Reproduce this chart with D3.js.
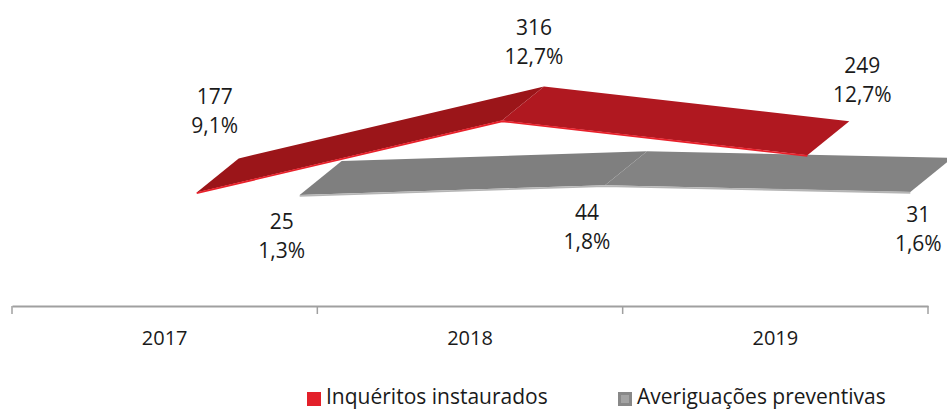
<!DOCTYPE html>
<html>
<head>
<meta charset="utf-8">
<script src="https://cdn.jsdelivr.net/npm/d3@7"></script>
<style>
  body { margin: 0; background: #fff; }
  svg text { font-family: "Open Sans", sans-serif; fill: #1a1a1a; }
</style>
</head>
<body>
<div id="chart"></div>
<script>
let svgWidth = 947;
let svgHeight = 410;

// Data
let years = ["2017", "2018", "2019"];
let seriesNames = ["Inquéritos instaurados", "Averiguações preventivas"];
let inqueritos = [177, 316, 249];
let inqueritosPct = ["9,1%", "12,7%", "12,7%"];
let averiguacoes = [25, 44, 31];
let averiguacoesPct = ["1,3%", "1,8%", "1,6%"];

// label nudges (layout only)
let inqNudge = [[18, -88], [32, -85], [55, -82]];
let avgNudge = [[-18, 34], [-18, 35], [8, 30]];

let svg = d3.select("#chart").append("svg").attr("width", svgWidth).attr("height", svgHeight);

let floorY = 306;
let x = d3.scaleBand().domain(years).range([12, 928]).padding(0);
let y = d3.scaleLinear().domain([0, 400]).range([0, 207]); // height above floor

let depth = { dx: 42, dy: -34 };

// one ribbon per series: front edge offset from floor centre
let series = [
  { name: seriesNames[1], values: averiguacoes, pct: averiguacoesPct, off: { dx: 135, dy: -98 },
    fills: ["#7f7f7f", "#838383"], edge: "#b5b5b5", nudge: avgNudge },
  { name: seriesNames[0], values: inqueritos, pct: inqueritosPct, off: { dx: 32, dy: -22 },
    fills: ["#9b1519", "#b01820"], edge: "#e8212b", nudge: inqNudge }
];

let front = (s, i) => [x(years[i]) + x.bandwidth() / 2 + s.off.dx, floorY - y(s.values[i]) + s.off.dy];
let back = (s, i) => { let p = front(s, i); return [p[0] + depth.dx, p[1] + depth.dy]; };

let line = d3.line();

series.forEach(s => {
  let g = svg.append("g");
  for (let i = 0; i < years.length - 1; i++) {
    g.append("path")
      .attr("d", line([front(s, i), front(s, i + 1), back(s, i + 1), back(s, i)]) + "Z")
      .attr("fill", s.fills[i]);
  }
  // thin front edge (ribbon thickness)
  g.append("path")
    .attr("d", line(years.map((d, i) => { let p = front(s, i); return [p[0], p[1] + 0.8]; })))
    .attr("fill", "none")
    .attr("stroke", s.edge)
    .attr("stroke-width", 1.8);
});

// data labels
series.forEach(s => {
  years.forEach((yr, i) => {
    let p = front(s, i);
    let t = svg.append("text")
      .attr("x", p[0] + s.nudge[i][0])
      .attr("y", p[1] + s.nudge[i][1])
      .attr("text-anchor", "middle")
      .attr("font-size", 21);
    t.append("tspan").attr("x", p[0] + s.nudge[i][0]).text(s.values[i]);
    t.append("tspan").attr("x", p[0] + s.nudge[i][0]).attr("dy", 29).text(s.pct[i]);
  });
});

// category axis
let axisG = svg.append("g").attr("transform", `translate(0, ${floorY})`);
axisG.call(d3.axisBottom(x).tickSize(0).tickPadding(25));
axisG.attr("font-size", 20).attr("font-family", "'Open Sans', sans-serif");
axisG.select(".domain").attr("stroke", "#a0a0a0").attr("stroke-width", 2);
axisG.selectAll(".tick text")
  .style("font-size", "20px")
  .attr("fill", "#1a1a1a");
let bounds = years.map(d => x(d)).concat([x.range()[1]]);
axisG.selectAll("line.bound")
  .data(bounds)
  .enter()
  .append("line")
  .attr("class", "bound")
  .attr("x1", d => d).attr("x2", d => d)
  .attr("y1", 0).attr("y2", 8)
  .attr("stroke", "#a0a0a0")
  .attr("stroke-width", 1.5);

// legend
let legend = [
  { name: seriesNames[0], x: 307, outer: "#e3202a", inner: null },
  { name: seriesNames[1], x: 618, outer: "#888888", inner: "#a3a3a3" }
];
legend.forEach(l => {
  svg.append("rect").attr("x", l.x).attr("y", 392).attr("width", 14).attr("height", 14).attr("fill", l.outer);
  if (l.inner) svg.append("rect").attr("x", l.x + 3).attr("y", 395).attr("width", 8).attr("height", 8).attr("fill", l.inner);
  svg.append("text").attr("x", l.x + 19).attr("y", 404).attr("font-size", 21).text(l.name);
});
</script>
</body>
</html>
